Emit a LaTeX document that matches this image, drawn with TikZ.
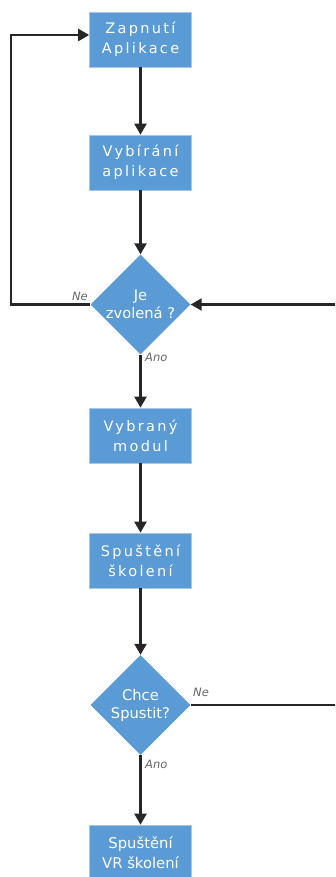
\documentclass[tikz,border=0pt]{standalone}
\usepackage{fontspec}
\setmainfont{DejaVu Sans}
\newfontfamily\wide[LetterSpace=16]{DejaVu Sans}
\usetikzlibrary{shapes.geometric,arrows.meta}
\definecolor{boxblue}{HTML}{5B9BD5}
\definecolor{boxedge}{HTML}{A9C6E8}
\definecolor{linegray}{HTML}{262626}
\definecolor{labelgray}{HTML}{666666}
\tikzset{
  stepbox/.style={rectangle, draw=boxedge, line width=0.6pt, fill=boxblue,
    minimum width=102pt, minimum height=55pt, inner sep=0pt,
    text=white, align=center, font=\wide\fontsize{14.5}{20}\selectfont},
  lastbox/.style={stepbox, font=\fontsize{14.8}{20}\selectfont},
  choice/.style={diamond, fill=boxblue, minimum width=100pt, minimum height=100pt,
    inner sep=0pt, text=white, align=center},
  flow/.style={draw=linegray, line width=2.2pt, -{Triangle[length=11pt,width=12pt]}},
  plain/.style={draw=linegray, line width=2.2pt},
  tag/.style={text=labelgray, font=\itshape\fontsize{11.5}{13}\selectfont, inner sep=0pt}
}
\begin{document}
\begin{tikzpicture}[x=1pt,y=-1pt]
\useasboundingbox (0,0) rectangle (335,877);
\clip (0,0) rectangle (335,877);

\node[stepbox] (start) at (140.5,39.5) {Zapnutí\\Aplikace};
\node[stepbox] (pick) at (140.5,162.5) {Vybírání\\aplikace};
\node[choice, font=\fontsize{14.7}{18}\selectfont] (chosen) at (140.5,304.5) {Je\\zvolená ?};
\node[stepbox] (module) at (140.5,435.5) {Vybraný\\modul};
\node[stepbox] (train) at (140.5,560.5) {Spuštění\\školení};
\node[choice, font=\fontsize{14.7}{18}\selectfont] (wants) at (140.5,705) {Chce\\Spustit?};
\node[lastbox] (vr) at (140.5,852.5) {Spuštění\\VR školení};

\coordinate (loopL) at (11,304.5);
\coordinate (loopT) at (11,35);
\coordinate (outR1) at (345,304.5);
\coordinate (outR2) at (345,705);

\draw[flow] (start) -- (pick);
\draw[flow] (pick) -- (chosen);
\draw[flow] (chosen) -- (module);
\draw[flow] (module) -- (train);
\draw[flow] (train) -- (wants);
\draw[flow] (wants) -- (vr);
\draw[flow] (chosen.west) -- (loopL) -- (loopT) -- (loopT -| start.west);
\draw[flow] (outR1) -- (chosen.east);
\draw[plain] (wants.east) -- (outR2);

\node[tag, anchor=east] (ne1) at (88,296) {Ne};
\node[tag, anchor=west] (ano1) at (145,357) {Ano};
\node[tag, anchor=west] (ne2) at (193,692) {Ne};
\node[tag, anchor=west] (ano2) at (145,764) {Ano};
\end{tikzpicture}
\end{document}
